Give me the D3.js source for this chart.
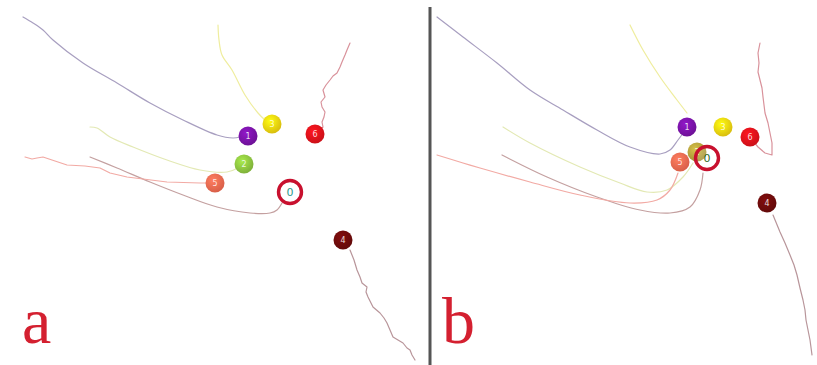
<!DOCTYPE html>
<html><head><meta charset="utf-8">
<script src="https://cdn.jsdelivr.net/npm/d3@7"></script>
<style>html,body{margin:0;padding:0;background:#fff;}svg{display:block;}</style>
</head><body>
<script>
// agent ids and their colours
const agentIds = [0, 1, 2, 3, 4, 5, 6];
const ballColors = ["#ffffff", "#7a13a8", "#8dc540", "#f2d410", "#6e0b0b", "#f26a50", "#e3121b"];
const lineColors = ["#c4a0a0", "#a89fc0", "#e3e9b4", "#efed9e", "#b8959a", "#f2aaa4", "#d9929b"];
const panelLabels = ["a", "b"];

// panel a: trajectories (panel-local units) per agent
const trajA0 = [[90,157],[117,168],[150,182],[183,195],[217,207],[250,213],[270,213],[277,210],[282,203]];
const trajA1 = [[23,17],[33,23],[43,30],[53,40],[83,63],[117,83],[150,103],[183,120],[217,135],[233,138],[240,137]];
const trajA2 = [[90,127],[97,128],[110,137],[133,147],[167,160],[200,170],[227,172],[238,168]];
const trajA3 = [[218,25],[219,40],[222,55],[232,70],[245,95],[258,113],[266,121]];
const trajA4 = [[350,250],[354,260],[357,270],[360,277],[362,283],[367,287],[366,292],[368,297],[373,307],[380,313],[384,318],[387,323],[390,330],[393,337],[398,340],[403,343],[407,348],[410,350],[412,355],[415,360]];
const trajA5 = [[25,157],[32,159],[37,158],[43,157],[55,161],[67,165],[85,166],[100,168],[110,173],[127,177],[167,182],[200,183],[208,183]];
const trajA6 = [[350,43],[347,50],[345,55],[342,62],[340,67],[337,73],[333,76],[330,80],[326,85],[323,90],[325,97],[321,102],[322,107],[325,112],[324,117],[322,122],[323,127],[318,132]];
// panel a: end positions
const endA = [[290,192],[248,136],[244,164],[272,124],[343,240],[215,183],[315,134]];

// panel b: trajectories
const trajB0 = [[82,155],[127,177],[177,197],[220,210],[250,213],[270,207],[280,190],[283,173]];
const trajB1 = [[17,17],[43,37],[77,63],[110,90],[143,110],[177,130],[210,147],[240,154],[250,150],[258,140],[264,132]];
const trajB2 = [[83,127],[110,143],[160,167],[200,183],[227,192],[247,190],[263,177],[273,163]];
const trajB3 = [[210,25],[223,50],[240,77],[257,100],[267,113]];
const trajB4 = [[353,215],[360,232],[365,243],[370,255],[374,265],[377,275],[380,288],[383,300],[385,310],[386,320],[388,330],[390,340],[392,355]];
const trajB5 = [[17,155],[43,163],[60,168],[110,182],[160,195],[210,203],[237,200],[250,190],[258,173]];
const trajB6 = [[340,43],[338,53],[339,63],[338,72],[340,80],[342,88],[343,97],[344,105],[345,113],[348,123],[350,133],[352,143],[352,155],[345,153],[338,147],[333,141]];
// panel b: end positions
const endB = [[287,158],[267,127],[277,152],[303,127],[347,203],[260,162],[330,137]];

const W = 817, H = 365;
const svg = d3.select("body").append("svg").attr("width", W).attr("height", H);

const defs = svg.append("defs");
function grad(id, col) {
  const g = defs.append("radialGradient").attr("id", id).attr("cx", "40%").attr("cy", "35%").attr("r", "65%");
  g.append("stop").attr("offset", "0%").attr("stop-color", d3.color(col).brighter(0.5));
  g.append("stop").attr("offset", "100%").attr("stop-color", d3.color(col).darker(0.3));
}
agentIds.forEach(id => grad("g" + id, ballColors[id]));
grad("gb2", "#b5a23c");

const panels = [
  {offset: 0, trajs: [trajA0, trajA1, trajA2, trajA3, trajA4, trajA5, trajA6], ends: endA, smooth: [true, true, true, true, false, false, false], label: panelLabels[0], zeroFill: "#ffffff", zeroText: "#2a9a8a", fill2: "url(#g2)"},
  {offset: 420, trajs: [trajB0, trajB1, trajB2, trajB3, trajB4, trajB5, trajB6], ends: endB, smooth: [true, true, true, true, false, true, false], label: panelLabels[1], zeroFill: "rgba(255,255,255,0.15)", zeroText: "#2e6b1e", fill2: "url(#gb2)"}
];

panels.forEach(p => {
  const x = d3.scaleLinear().domain([0, 400]).range([p.offset, p.offset + 400]);
  const y = d3.scaleLinear().domain([0, 365]).range([0, 365]);
  const g = svg.append("g");

  // trajectories
  p.trajs.forEach((t, i) => {
    const line = d3.line().x(d => x(d[0])).y(d => y(d[1]))
      .curve(p.smooth[i] ? d3.curveCatmullRom.alpha(0.5) : d3.curveLinear);
    g.append("path").attr("d", line(t)).attr("fill", "none")
      .attr("stroke", lineColors[i]).attr("stroke-width", 1.2)
      .attr("stroke-linejoin", "round").attr("stroke-linecap", "round");
  });

  // balls (draw 0 last)
  const order = [1, 2, 3, 4, 5, 6, 0];
  order.forEach(i => {
    const [cx, cy] = p.ends[i];
    if (i === 0) {
      g.append("circle").attr("cx", x(cx)).attr("cy", y(cy)).attr("r", 11.5)
        .attr("fill", p.zeroFill).attr("stroke", "#c8102e").attr("stroke-width", 3.4);
      g.append("text").attr("x", x(cx)).attr("y", y(cy) + 4).attr("text-anchor", "middle")
        .attr("font-family", "DejaVu Sans, sans-serif").attr("font-size", 11)
        .attr("fill", p.zeroText).text(String(i));
    } else {
      g.append("circle").attr("cx", x(cx)).attr("cy", y(cy)).attr("r", 9.5)
        .attr("fill", i === 2 ? p.fill2 : "url(#g" + i + ")");
      g.append("text").attr("x", x(cx)).attr("y", y(cy) + 3).attr("text-anchor", "middle")
        .attr("font-family", "DejaVu Sans, sans-serif").attr("font-size", 8)
        .attr("fill", "#ffffff").attr("fill-opacity", 0.85).text(String(i));
    }
  });

  // panel label
  g.append("text").attr("x", x(22)).attr("y", 343)
    .attr("font-family", "Liberation Serif, DejaVu Serif, serif").attr("font-size", 66)
    .attr("fill", "#d42030").text(p.label);
});

// divider
svg.append("line").attr("x1", 430).attr("x2", 430).attr("y1", 7).attr("y2", H)
  .attr("stroke", "#555555").attr("stroke-width", 3);
</script>
</body></html>
